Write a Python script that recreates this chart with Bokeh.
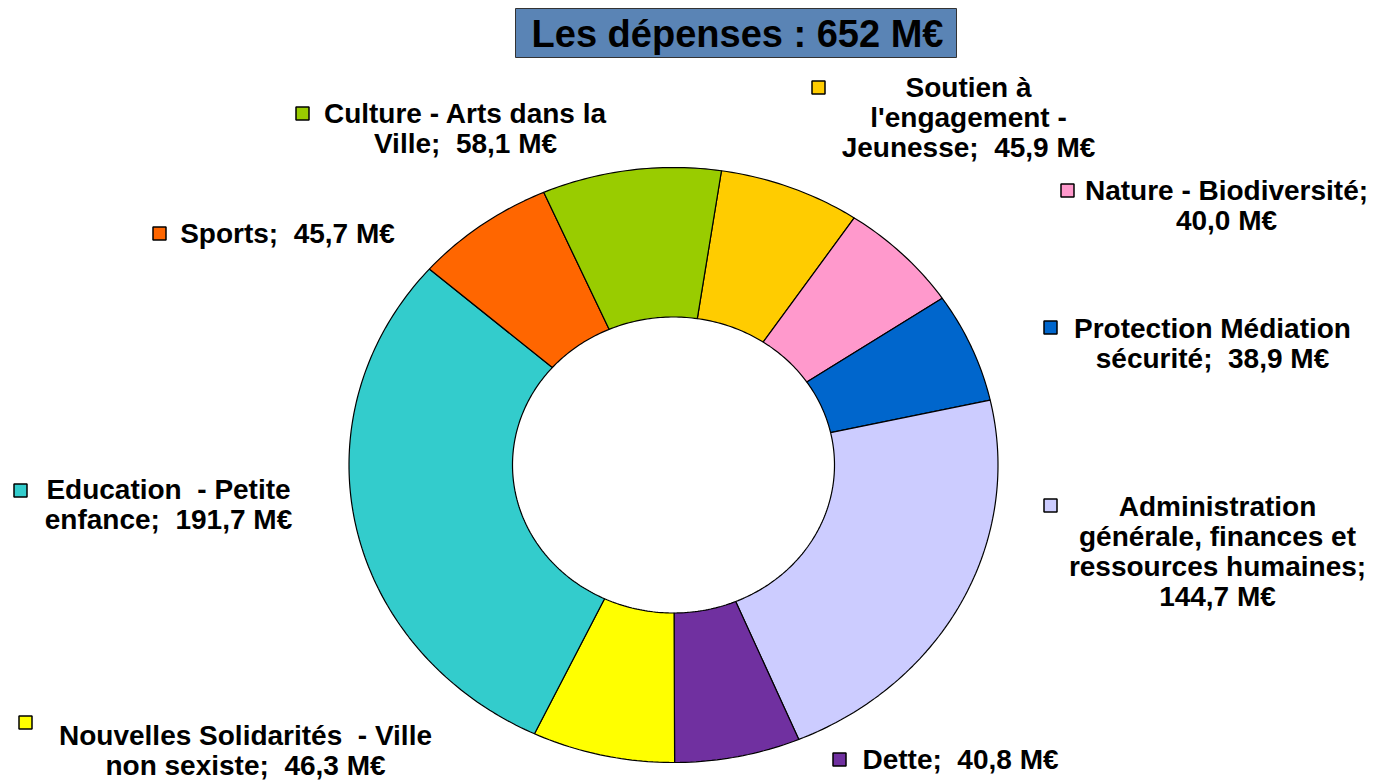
import numpy as np
from bokeh.plotting import figure
from bokeh.models import ColumnDataSource, Range1d
from bokeh.core.properties import value
from bokeh.embed import file_html
from bokeh.resources import INLINE

# ---------------- data ----------------
NB = "\u00a0"
categories = [
    "Soutien à\nl'engagement -\nJeunesse",
    "Nature - Biodiversité",
    "Protection Médiation\nsécurité",
    "Administration\ngénérale, finances et\nressources humaines",
    "Dette",
    f"Nouvelles Solidarités {NB}- Ville\nnon sexiste",
    f"Education {NB}- Petite\nenfance",
    "Sports",
    "Culture - Arts dans la\nVille",
]
values = [45.9, 40.0, 38.9, 144.7, 40.8, 46.3, 191.7, 45.7, 58.1]
colors = ["#FFCC00", "#FF99CC", "#0066CC", "#CCCCFF", "#7030A0",
          "#FFFF00", "#33CCCC", "#FF6600", "#99CC00"]
value_on_new_line = [False, True, False, True, False, False, False, False, False]
title_prefix = "Les dépenses"
unit = "M€"

# ---------------- layout (page pixel coordinates) ----------------
W, H = 1377, 780
CX, CY = 673.0, 464.5          # donut centre
RX, RY = 324.5, 297.5          # outer radii
RXI, RYI = 161.0, 148.0        # inner radii
START_DEG = 8.5                # clockwise from 12 o'clock

label_anchor = [(968, 87), (1226, 190), (1212, 328), (1217, 506), (960, 759),
                (245, 735), (168, 489), (287, 233), (465, 113)]
key_pos = [(818, 87), (1067, 190), (1050, 327), (1050, 505), (839, 759),
           (25, 722), (20, 490), (159, 233), (302, 113)]
LINE_STEP = 30.0
FONT = "Liberation Sans"


def dx(x):
    return x


def dy(y):
    return H - y


def fmt(v):
    return f"{v:.1f}".replace(".", ",")


p = figure(width=W, height=H, x_range=Range1d(0, W), y_range=Range1d(0, H),
           output_backend="svg", toolbar_location=None, min_border=0)
p.axis.visible = False
p.grid.visible = False
p.outline_line_color = None
p.background_fill_color = "white"
p.border_fill_color = "white"

# ---------------- donut slices ----------------
total = sum(values)
cum = np.concatenate([[0.0], np.cumsum(values)])
xs, ys = [], []
for i in range(len(values)):
    t0 = np.radians(START_DEG + cum[i] / total * 360.0)
    t1 = np.radians(START_DEG + cum[i + 1] / total * 360.0)
    n = max(8, int(values[i] / total * 400))
    t = np.linspace(t0, t1, n)
    ox = CX + RX * np.sin(t)
    oy = CY - RY * np.cos(t)
    ix = CX + RXI * np.sin(t[::-1])
    iy = CY - RYI * np.cos(t[::-1])
    px = np.concatenate([ox, ix])
    py = np.concatenate([oy, iy])
    xs.append(list(dx(px)))
    ys.append(list(dy(py)))

slices = ColumnDataSource(dict(xs=xs, ys=ys, color=colors, name=categories, val=values))
p.patches("xs", "ys", source=slices, fill_color="color", line_color="black", line_width=1.2)

# ---------------- labels ----------------
tx, ty, tt = [], [], []
for i, name in enumerate(categories):
    sep = "\n" if value_on_new_line[i] else f"{NB} "
    full = f"{name};{sep}{fmt(values[i])} {unit}"
    lines = full.split("\n")
    cx0, y0 = label_anchor[i]
    for j, line in enumerate(lines):
        tx.append(dx(cx0))
        ty.append(dy(y0 + j * LINE_STEP))
        tt.append(line)
labels = ColumnDataSource(dict(x=tx, y=ty, text=tt))
p.text("x", "y", text="text", source=labels, text_font=value(FONT), text_font_style="bold",
       text_font_size="28px", text_align="center", text_baseline="middle", text_color="black")

keys = ColumnDataSource(dict(x=[dx(k[0]) for k in key_pos], y=[dy(k[1]) for k in key_pos],
                             color=colors))
p.scatter("x", "y", source=keys, marker="square", size=13, fill_color="color",
          line_color="black", line_width=1.5)

# ---------------- title box ----------------
title_text = f"{title_prefix} : {round(total)} {unit}"
p.rect(x=[dx(735.5)], y=[dy(32.5)], width=[441], height=[49], fill_color="#5A84B5",
       line_color="#333333", line_width=1)
p.text(x=[dx(737)], y=[dy(33)], text=[title_text], text_font=value(FONT),
       text_font_style="bold", text_font_size="38px", text_align="center",
       text_baseline="middle", text_color="black")

open("out.html", "w").write(file_html(p, INLINE))
